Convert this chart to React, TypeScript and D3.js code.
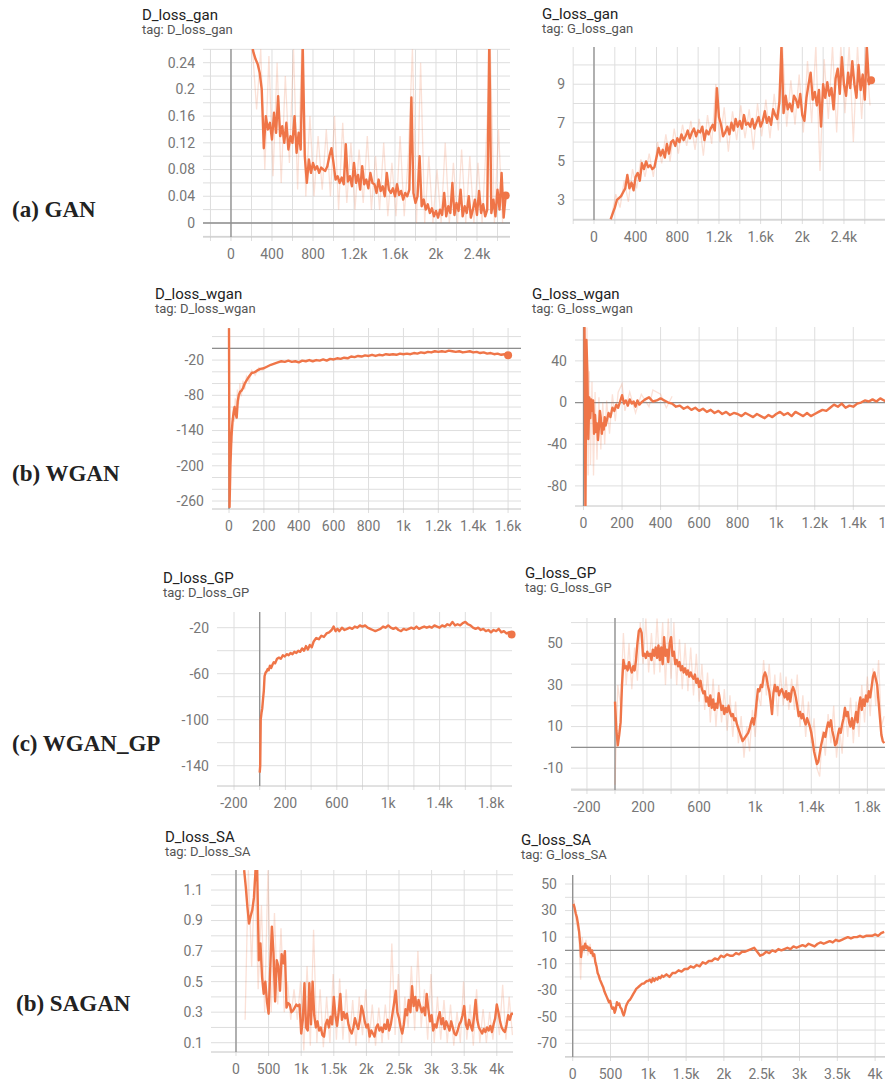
import React from "react"
import * as d3 from "d3"

type Pt = [number, number]

// logged scalars come at a fixed step stride
const seq = (start: number, stride: number, values: number[]): Pt[] =>
  values.map((v, i) => [start + i * stride, v] as Pt)

// ---------- (a) GAN ----------
const dLossGan = seq(200, 20, [
  0.270, 0.255, 0.245, 0.238, 0.225, 0.200, 0.112, 0.160, 0.140, 0.150,
  0.125, 0.165, 0.135, 0.190, 0.130, 0.145, 0.120, 0.150, 0.110, 0.130,
  0.120, 0.160, 0.105, 0.135, 0.110, 0.265, 0.100, 0.060, 0.095, 0.075,
  0.090, 0.080, 0.085, 0.075, 0.083, 0.080, 0.078, 0.085, 0.100, 0.112,
  0.090, 0.065, 0.070, 0.060, 0.068, 0.058, 0.118, 0.062, 0.070, 0.055,
  0.090, 0.060, 0.072, 0.050, 0.085, 0.058, 0.065, 0.052, 0.075, 0.060,
  0.058, 0.045, 0.065, 0.048, 0.055, 0.040, 0.075, 0.050, 0.045, 0.052,
  0.040, 0.058, 0.042, 0.048, 0.035, 0.045, 0.040, 0.050, 0.188, 0.045,
  0.030, 0.040, 0.100, 0.025, 0.035, 0.020, 0.028, 0.015, 0.022, 0.010,
  0.018, 0.008, 0.020, 0.012, 0.045, 0.010, 0.025, 0.015, 0.060, 0.012,
  0.030, 0.018, 0.050, 0.010, 0.025, 0.015, 0.040, 0.008, 0.020, 0.035,
  0.012, 0.048, 0.015, 0.028, 0.010, 0.020, 0.275, 0.015, 0.035, 0.010,
  0.050, 0.020, 0.075, 0.008, 0.041,
])
const dLossGanRaw = seq(210, 40, [
  0.26, 0.17, 0.26, 0.08, 0.25, 0.07, 0.24, 0.06, 0.22, 0.09,
  0.26, 0.05, 0.26, 0.04, 0.16, 0.04, 0.13, 0.05, 0.14, 0.04,
  0.16, 0.02, 0.15, 0.03, 0.12, 0.02, 0.11, 0.03, 0.13, 0.02,
  0.10, 0.02, 0.12, 0.01, 0.09, 0.01, 0.13, 0.01, 0.10, 0.26,
  0.00, 0.24, 0.00, 0.10, 0.00, 0.08, 0.00, 0.12, 0.00, 0.09,
  0.00, 0.11, 0.00, 0.10, 0.00, 0.09, 0.00, 0.12, 0.26, 0.00,
  0.14, 0.00,
])
const gLossGan = seq(160, 20, [
  2.0, 2.3, 2.6, 3.0, 3.1, 3.2, 3.4, 3.6, 4.3, 3.6,
  3.9, 3.5, 4.2, 4.4, 4.0, 4.9, 4.6, 5.0, 4.7, 4.8,
  4.6, 4.7, 5.2, 5.7, 5.3, 5.6, 5.2, 5.9, 5.4, 6.0,
  6.1, 5.8, 6.2, 6.0, 6.4, 6.1, 6.3, 6.6, 6.2, 6.5,
  6.7, 6.3, 6.6, 6.5, 6.8, 6.1, 6.6, 6.4, 6.7, 6.9,
  6.6, 8.8, 7.3, 6.9, 6.3, 6.5, 6.8, 6.4, 7.0, 6.6,
  7.2, 6.8, 7.1, 6.7, 7.4, 6.9, 7.0, 6.8, 7.2, 6.7,
  7.0, 7.3, 6.8, 7.1, 7.6, 7.0, 7.3, 6.9, 7.7, 7.4,
  7.2, 8.1, 11.0, 7.5, 8.4, 7.7, 8.0, 7.6, 8.4, 8.2,
  7.8, 8.5, 7.4, 7.1, 8.3, 9.0, 9.6, 8.2, 8.6, 7.9,
  8.7, 6.8, 9.0, 8.3, 9.1, 8.4, 8.8, 7.7, 9.3, 9.8,
  8.5, 10.4, 9.0, 8.4, 9.6, 8.8, 10.2, 9.0, 8.3, 10.0,
  8.7, 9.5, 8.2, 10.9, 9.0, 9.2,
])
const gLossGanRaw = seq(170, 40, [
  2.2, 3.3, 2.6, 4.0, 2.9, 4.6, 3.6, 5.1, 4.2, 5.4,
  4.2, 6.0, 4.9, 6.4, 5.0, 6.7, 5.4, 6.9, 5.8, 7.1,
  5.6, 7.2, 5.3, 7.4, 5.9, 9.0, 6.0, 7.8, 5.5, 7.6,
  6.1, 7.9, 6.2, 7.7, 5.6, 8.0, 6.3, 8.2, 6.2, 8.5,
  6.6, 11.0, 6.8, 9.2, 6.9, 9.5, 6.5, 10.2, 7.0, 11.0,
  4.5, 10.3, 7.2, 11.0, 6.5, 11.0, 7.5, 11.0, 6.0, 11.0,
  7.2, 11.0, 7.9,
])

// ---------- (b) WGAN ----------
const dLossWgan: Pt[] = [
  [0, 34], [3, -270], [8, -200], [14, -150], [20, -125], [26, -110], [32, -100], [38, -112], [44, -118], [50, -90],
  [56, -80], [64, -74], [72, -72], [80, -68], [90, -60], [100, -55], [115, -48], [130, -42], [145, -41], [160, -38],
  [180, -35], [200, -34], [220, -31], [240, -28], [260, -26], [280, -24], [300, -22], [320, -23], [340, -21], [360, -23],
  [380, -22], [400, -24], [420, -21], [440, -22], [460, -20], [480, -22], [500, -20], [520, -21], [540, -19], [560, -21],
  [580, -18], [600, -19], [620, -17], [640, -18], [660, -16], [680, -17], [700, -14], [720, -15], [740, -13], [760, -14],
  [780, -12], [800, -13], [820, -11], [840, -13], [860, -11], [880, -12], [900, -10], [920, -11], [940, -10], [960, -11],
  [980, -9], [1000, -10], [1020, -9], [1040, -10], [1060, -8], [1080, -9], [1100, -7], [1120, -8], [1140, -6], [1160, -7],
  [1180, -5], [1200, -6], [1220, -5], [1240, -6], [1260, -4], [1280, -5], [1300, -6], [1320, -5], [1340, -7], [1360, -6],
  [1380, -5], [1400, -7], [1420, -6], [1440, -8], [1460, -7], [1480, -9], [1500, -8], [1520, -10], [1540, -9], [1560, -11],
  [1580, -10], [1600, -12],
]
const dLossWganRaw: Pt[] = [
  [6, -230], [12, -140], [18, -160], [24, -100], [30, -125], [36, -85], [42, -120], [48, -70], [55, -95], [62, -60],
  [70, -82], [80, -55], [90, -70], [100, -48], [115, -58], [130, -38], [150, -46], [170, -33], [190, -38], [210, -30],
]
const gLossWgan: Pt[] = [
  [0, 72], [5, 72], [10, -99], [15, 60], [20, 30], [25, -35], [30, 5], [35, -15], [40, 3], [45, -8],
  [50, 2], [55, -30], [60, -12], [65, -28], [70, -20], [75, -36], [80, -24], [85, -8], [90, -15], [95, -30],
  [100, -20], [105, -26], [110, -14], [115, -22], [120, -18], [130, -10], [140, -14], [150, -5], [160, -8], [170, -2],
  [180, -5], [190, 1], [200, 7], [210, -1], [220, 2], [230, -3], [240, 3], [250, -1], [260, 1], [270, -4],
  [280, 2], [290, -2], [300, 0], [320, 3], [340, 5], [360, 1], [380, 2], [400, 4], [420, 2], [440, 0],
  [460, -1], [480, -4], [500, -3], [520, -6], [540, -4], [560, -7], [580, -5], [600, -8], [620, -6], [640, -9],
  [660, -7], [680, -10], [700, -8], [720, -11], [740, -9], [760, -12], [780, -10], [800, -11], [820, -13], [840, -10],
  [860, -12], [880, -14], [900, -11], [920, -13], [940, -15], [960, -12], [980, -14], [1000, -11], [1020, -9], [1040, -12],
  [1060, -10], [1080, -13], [1100, -9], [1120, -11], [1140, -13], [1160, -10], [1180, -13], [1200, -11], [1220, -9], [1240, -7],
  [1260, -8], [1280, -5], [1300, -2], [1320, -4], [1340, -1], [1360, -5], [1380, -3], [1400, -4], [1420, -1], [1440, 0],
  [1460, 2], [1480, 1], [1500, 3], [1520, 1], [1540, 4], [1560, 2], [1580, 0], [1600, -1],
]
const gLossWganRaw: Pt[] = [
  [8, 72], [12, -99], [18, 72], [24, -70], [30, 30], [36, -60], [44, 20], [52, -70], [60, 10], [70, -55],
  [80, 5], [90, -45], [100, 0], [110, -40], [120, 2], [135, -30], [150, 8], [165, -18], [180, 10], [200, 18],
  [215, -8], [240, 10], [270, -10], [300, 8], [340, -4], [360, 12], [400, 8], [430, -5], [460, 6],
]

// ---------- (c) WGAN_GP ----------
const dLossGp: Pt[] = [
  [0, -146], [4, -140], [8, -100], [14, -94], [20, -90], [26, -82], [32, -75], [38, -62], [46, -59], [54, -58],
  [62, -56], [70, -57], [80, -53], [90, -55], [100, -52], [110, -50], [120, -51], [135, -47], [150, -46], [165, -47],
  [180, -44], [195, -45], [210, -43], [225, -44], [240, -42], [255, -43], [270, -41], [285, -42], [300, -40], [315, -41],
  [330, -38], [345, -40], [360, -36], [375, -39], [390, -35], [405, -37], [420, -32], [440, -29], [460, -30], [480, -27],
  [500, -28], [520, -25], [540, -24], [560, -22], [575, -19], [590, -23], [605, -21], [620, -23], [640, -20], [660, -22],
  [680, -21], [700, -20], [720, -21], [740, -19], [760, -20], [780, -18], [800, -19], [820, -18], [840, -20], [860, -21],
  [880, -22], [900, -23], [920, -22], [940, -21], [960, -19], [980, -20], [1000, -18], [1020, -20], [1040, -21], [1060, -20],
  [1080, -22], [1100, -23], [1120, -21], [1140, -22], [1160, -21], [1180, -20], [1200, -21], [1220, -19], [1240, -21], [1260, -20],
  [1280, -19], [1300, -20], [1320, -19], [1340, -20], [1360, -18], [1380, -19], [1400, -20], [1420, -18], [1440, -19], [1460, -17],
  [1480, -18], [1500, -15], [1520, -18], [1540, -17], [1560, -18], [1580, -16], [1600, -15], [1620, -17], [1640, -18], [1660, -20],
  [1680, -21], [1700, -20], [1720, -22], [1740, -21], [1760, -23], [1780, -22], [1800, -24], [1820, -22], [1840, -23], [1860, -21],
  [1880, -24], [1900, -23], [1920, -25], [1940, -24], [1960, -26],
]
const gLossGp = seq(0, 10, [
  22, 8, 1, 6, 12, 30, 42, 38, 39, 37,
  41, 38, 36, 39, 37, 42, 50, 56, 57, 55,
  44, 45, 43, 46, 44, 45, 42, 47, 44, 48,
  43, 49, 42, 48, 40, 53, 44, 47, 41, 50,
  53, 44, 46, 40, 42, 39, 41, 37, 39, 36,
  38, 35, 37, 34, 36, 34, 33, 35, 31, 33,
  29, 32, 28, 26, 27, 22, 24, 20, 25, 19,
  23, 18, 21, 19, 26, 22, 18, 20, 16, 19,
  17, 20, 17, 15, 16, 13, 14, 11, 9, 7,
  5, 3, 4, 5, 6, 7, 9, 12, 14, 11,
  15, 22, 28, 27, 30, 29, 34, 36, 34, 30,
  27, 22, 16, 26, 30, 27, 29, 25, 27, 28,
  26, 24, 27, 23, 26, 22, 27, 29, 27, 24,
  20, 15, 17, 14, 16, 13, 11, 14, 12, 10,
  7, 3, -2, -5, -8, -7, -3, 1, 4, 7,
  5, 9, 12, 10, 13, 8, 5, 1, 2, 6,
  9, 7, 11, 14, 19, 15, 17, 12, 10, 14,
  9, 13, 17, 12, 20, 24, 18, 23, 20, 25,
  22, 27, 24, 29, 34, 36, 33, 30, 22, 14,
  6, 3, 2,
])
const gLossGpRaw = seq(0, 20, [
  -18, 30, 20, 55, 30, 50, 28, 48, 32, 60,
  40, 62, 36, 55, 35, 62, 36, 60, 30, 62,
  33, 60, 30, 52, 28, 50, 27, 48, 25, 45,
  22, 40, 18, 36, 12, 33, 10, 30, 12, 28,
  8, 25, 5, 22, 2, 15, -5, 10, -2, 18,
  5, 25, 20, 42, 25, 40, 18, 35, 15, 36,
  20, 34, 18, 33, 18, 35, 10, 25, 5, 22,
  2, 14, -10, -14, 8, -4, 16, 2, 20, -5,
  10, -3, 20, 5, 24, 2, 22, 5, 30, 12,
  34, 15, 38, 20, 42, 10, 15,
])

// ---------- (d) SAGAN ----------
const dLossSa = seq(125, 25, [
  1.23, 1.12, 0.99, 0.88, 0.93, 0.97, 1.05, 1.23, 1.23, 0.64,
  0.75, 0.53, 0.42, 0.50, 0.37, 0.29, 0.58, 0.86, 0.69, 0.37,
  0.64, 0.60, 0.44, 0.68, 0.62, 0.70, 0.33, 0.36, 0.35, 0.30,
  0.31, 0.33, 0.35, 0.34, 0.35, 0.16, 0.25, 0.49, 0.20, 0.18,
  0.49, 0.22, 0.50, 0.28, 0.20, 0.24, 0.18, 0.20, 0.15, 0.14,
  0.22, 0.25, 0.20, 0.27, 0.22, 0.40, 0.28, 0.21, 0.30, 0.42,
  0.25, 0.30, 0.26, 0.29, 0.22, 0.18, 0.16, 0.20, 0.26, 0.22,
  0.19, 0.25, 0.34, 0.30, 0.24, 0.20, 0.22, 0.14, 0.18, 0.16,
  0.14, 0.20, 0.22, 0.18, 0.20, 0.17, 0.22, 0.19, 0.25, 0.18,
  0.22, 0.29, 0.36, 0.44, 0.30, 0.26, 0.20, 0.16, 0.22, 0.32,
  0.28, 0.38, 0.30, 0.47, 0.34, 0.40, 0.31, 0.38, 0.34, 0.30,
  0.33, 0.28, 0.42, 0.32, 0.24, 0.28, 0.18, 0.22, 0.20, 0.26,
  0.30, 0.22, 0.26, 0.19, 0.24, 0.21, 0.18, 0.24, 0.20, 0.16,
  0.15, 0.18, 0.22, 0.24, 0.28, 0.34, 0.22, 0.19, 0.25, 0.21,
  0.18, 0.27, 0.38, 0.25, 0.20, 0.18, 0.16, 0.19, 0.17, 0.20,
  0.18, 0.21, 0.17, 0.22, 0.26, 0.35, 0.30, 0.24, 0.20, 0.18,
  0.17, 0.22, 0.28, 0.25, 0.29, 0.29,
])
const dLossSaRaw = seq(140, 50, [
  0.25, 1.23, 0.60, 1.23, 0.45, 1.00, 0.30, 1.23, 0.30, 0.95,
  0.35, 0.85, 0.30, 0.50, 0.25, 0.45, 0.25, 0.50, 0.05, 0.60,
  0.08, 0.84, 0.10, 0.45, 0.07, 0.40, 0.10, 0.55, 0.12, 0.52,
  0.12, 0.45, 0.10, 0.38, 0.08, 0.40, 0.15, 0.45, 0.10, 0.35,
  0.08, 0.33, 0.10, 0.35, 0.12, 0.75, 0.15, 0.55, 0.10, 0.40,
  0.20, 0.60, 0.18, 0.70, 0.20, 0.45, 0.12, 0.55, 0.10, 0.40,
  0.12, 0.38, 0.10, 0.35, 0.08, 0.30, 0.10, 0.50, 0.12, 0.35,
  0.08, 0.45, 0.10, 0.32, 0.10, 0.30, 0.12, 0.35, 0.15, 0.48,
  0.12, 0.40, 0.15,
])
const gLossSa: Pt[] = [
  [10, 35], [25, 32], [40, 28], [55, 25], [70, 20], [85, 14], [100, 5], [110, -5], [120, 0], [135, 3],
  [150, 1], [165, 5], [180, 2], [195, 3], [210, 0], [225, 2], [240, -2], [255, 0], [270, -4], [285, -3],
  [300, -9], [315, -12], [330, -17], [345, -19], [360, -22], [375, -24], [390, -26], [405, -28], [420, -31], [435, -33],
  [450, -35], [465, -37], [480, -39], [495, -38], [510, -42], [525, -44], [540, -43], [555, -47], [570, -44], [585, -39],
  [600, -41], [615, -40], [630, -43], [645, -44], [660, -47], [675, -49], [690, -46], [705, -42], [720, -40], [740, -38],
  [760, -37], [780, -35], [800, -33], [820, -31], [840, -29], [860, -28], [880, -27], [900, -26], [920, -25], [940, -25],
  [960, -24], [980, -23], [1000, -23], [1020, -22], [1040, -24], [1060, -21], [1080, -23], [1100, -21], [1120, -22], [1140, -20],
  [1160, -21], [1180, -19], [1200, -20], [1240, -18], [1280, -20], [1320, -17], [1360, -17], [1400, -15], [1440, -16], [1480, -14],
  [1520, -14], [1560, -12], [1600, -13], [1640, -11], [1680, -12], [1720, -9], [1760, -10], [1800, -8], [1840, -8], [1880, -6],
  [1920, -7], [1960, -4], [2000, -5], [2040, -3], [2080, -4], [2120, -4], [2160, -2], [2200, -3], [2240, -1], [2280, -1],
  [2320, 0], [2360, 1], [2400, 2], [2440, -1], [2480, -4], [2520, -3], [2560, -1], [2600, -2], [2640, 0], [2680, -1],
  [2720, 1], [2760, 0], [2800, 1], [2840, 2], [2880, 1], [2920, 3], [2960, 2], [3000, 3], [3040, 4], [3080, 3],
  [3120, 5], [3160, 4], [3200, 3], [3240, 5], [3280, 6], [3320, 5], [3360, 6], [3400, 7], [3440, 6], [3480, 8],
  [3520, 7], [3560, 8], [3600, 9], [3640, 10], [3680, 9], [3720, 10], [3760, 10], [3800, 11], [3840, 10], [3880, 11],
  [3920, 11], [3960, 11], [4000, 12], [4040, 11], [4080, 13], [4120, 14],
]
const gLossSaRaw: Pt[] = [
  [15, 38], [50, 20], [80, 14], [105, -22], [125, 10], [150, -2], [175, 8], [200, -4], [230, 5], [260, -6],
]

// ---------- tick labels ----------
const ganXTicks = [0, 400, 800, 1200, 1600, 2000, 2400]
const dGanYTicks = [0, 0.04, 0.08, 0.12, 0.16, 0.2, 0.24]
const gGanYTicks = [3, 5, 7, 9]
const wganXTicks = [0, 200, 400, 600, 800, 1000, 1200, 1400, 1600]
const dWganYTicks = [-260, -200, -140, -80, -20]
const gWganYTicks = [-80, -40, 0, 40]
const gpXTicks = [-200, 200, 600, 1000, 1400, 1800]
const dGpYTicks = [-140, -100, -60, -20]
const gGpYTicks = [-10, 10, 30, 50]
const saXTicks = [0, 500, 1000, 1500, 2000, 2500, 3000, 3500, 4000]
const dSaYTicks = [0.1, 0.3, 0.5, 0.7, 0.9, 1.1]
const gSaYTicks = [-70, -50, -30, -10, 10, 30, 50]

const rowLabels = [
  { text: "(a) GAN", x: 12, y: 217 },
  { text: "(b) WGAN", x: 12, y: 481 },
  { text: "(c) WGAN_GP", x: 12, y: 751 },
  { text: "(b) SAGAN", x: 16, y: 1011 },
]

const panels = [
  { title: "D_loss_gan", tx: 142, ty: 20, left: 203, right: 510, top: 49, bottom: 237,
    xDomain: [-273, 2722], yDomain: [-0.021, 0.2605], xStep: 200, yStep: 0.02,
    xTicks: ganXTicks, yTicks: dGanYTicks, smooth: dLossGan, raw: dLossGanRaw, dot: true },
  { title: "G_loss_gan", tx: 542, ty: 19, left: 573, right: 885, top: 47, bottom: 220,
    xDomain: [-201.6, 2794], yDomain: [1.96, 10.93], xStep: 200, yStep: 1,
    xTicks: ganXTicks, yTicks: gGanYTicks, smooth: gLossGan, raw: gLossGanRaw, dot: true },
  { title: "D_loss_wgan", tx: 155, ty: 299, left: 212, right: 521, top: 328, bottom: 509,
    xDomain: [-97.5, 1674], yDomain: [-273.6, 34.6], xStep: 200, yStep: 20,
    xTicks: wganXTicks, yTicks: dWganYTicks, smooth: dLossWgan, raw: dLossWganRaw, dot: true },
  { title: "G_loss_wgan", tx: 532, ty: 299, left: 575, right: 885, top: 327, bottom: 506,
    xDomain: [-44.1, 1564.6], yDomain: [-99.3, 72.5], xStep: 200, yStep: 20,
    xTicks: wganXTicks, yTicks: gWganYTicks, smooth: gLossWgan, raw: gLossWganRaw, dot: true },
  { title: "D_loss_GP", tx: 163, ty: 583, left: 217, right: 512, top: 612, bottom: 786,
    xDomain: [-332.3, 1963.4], yDomain: [-157.65, -6.35], xStep: 200, yStep: 20,
    xTicks: gpXTicks, yTicks: dGpYTicks, smooth: dLossGp, raw: [] as Pt[], dot: true },
  { title: "G_loss_GP", tx: 525, ty: 578, left: 571, right: 885, top: 618, bottom: 790,
    xDomain: [-313.8, 1925.8], yDomain: [-20.5, 62.2], xStep: 200, yStep: 10,
    xTicks: gpXTicks, yTicks: gGpYTicks, smooth: gLossGp, raw: gLossGpRaw, dot: false },
  { title: "D_loss_SA", tx: 165, ty: 842, left: 211, right: 513, top: 870, bottom: 1052,
    xDomain: [-383.4, 4248.5], yDomain: [0.0392, 1.231], xStep: 500, yStep: 0.1,
    xTicks: saXTicks, yTicks: dSaYTicks, smooth: dLossSa, raw: dLossSaRaw, dot: false },
  { title: "G_loss_SA", tx: 521, ty: 845, left: 565, right: 885, top: 875, bottom: 1057,
    xDomain: [-101.9, 4130.9], yDomain: [-80.3, 56.8], xStep: 500, yStep: 10,
    xTicks: saXTicks, yTicks: gSaYTicks, smooth: gLossSa, raw: gLossSaRaw, dot: false },
]

const LINE = "#ef7548"
const kfmt = (d: number) => (Math.abs(d) >= 1000 ? `${d / 1000}k` : `${d}`)

function Panel({ p, idx }: { p: typeof panels[number]; idx: number }) {
  const x = d3.scaleLinear().domain(p.xDomain).range([p.left, p.right])
  const y = d3.scaleLinear().domain(p.yDomain).range([p.bottom, p.top])
  const line = d3.line<Pt>().x(d => x(d[0])).y(d => y(d[1]))
  const xGrid = d3.range(Math.ceil(p.xDomain[0] / p.xStep) * p.xStep, p.xDomain[1], p.xStep)
  const yGrid = d3.range(Math.ceil(p.yDomain[0] / p.yStep - 1e-6), Math.floor(p.yDomain[1] / p.yStep + 1e-6) + 1)
    .map(k => k * p.yStep)
  const clip = `clip-${idx}`
  const last = p.smooth[p.smooth.length - 1]
  const hasX0 = p.xDomain[0] < 0 && p.xDomain[1] > 0
  const hasY0 = p.yDomain[0] < 0 && p.yDomain[1] > 0

  return (
    <g>
      <text x={p.tx} y={p.ty} fontSize={15} fill="#222">{p.title}</text>
      <text x={p.tx} y={p.ty + 14} fontSize={13} fill="#555">{`tag: ${p.title}`}</text>
      <defs>
        <clipPath id={clip}>
          <rect x={p.left} y={p.top} width={p.right - p.left} height={p.bottom - p.top} />
        </clipPath>
      </defs>
      {yGrid.map(v => (
        <line key={`h${v}`} x1={p.left} x2={p.right} y1={y(v)} y2={y(v)} stroke="#dedede" />
      ))}
      {xGrid.map(v => (
        <line key={`v${v}`} x1={x(v)} x2={x(v)} y1={p.top} y2={p.bottom + 4} stroke="#dedede" />
      ))}
      <line x1={p.left} x2={p.right} y1={p.bottom} y2={p.bottom} stroke="#c4c4c4" />
      {hasY0 && <line x1={p.left} x2={p.right} y1={y(0)} y2={y(0)} stroke="#8e8e8e" strokeWidth={1.3} />}
      {hasX0 && <line x1={x(0)} x2={x(0)} y1={p.top} y2={p.bottom} stroke="#8e8e8e" strokeWidth={1.3} />}
      <g clipPath={`url(#${clip})`}>
        {p.raw.length > 0 && (
          <path d={line(p.raw) ?? ""} fill="none" stroke={LINE} strokeOpacity={0.22} strokeWidth={1.3} />
        )}
        <path d={line(p.smooth) ?? ""} fill="none" stroke={LINE} strokeWidth={2.4} strokeLinejoin="round" />
      </g>
      {p.dot && <circle cx={x(last[0])} cy={y(last[1])} r={4} fill={LINE} />}
      {p.yTicks.map(v => (
        <text key={`yl${v}`} x={p.left - 8} y={y(v)} dy="0.35em" textAnchor="end" fontSize={14} fill="#777">
          {String(v)}
        </text>
      ))}
      {p.xTicks.map(v => (
        <text key={`xl${v}`} x={x(v)} y={p.bottom + 22} textAnchor="middle" fontSize={14} fill="#777">
          {kfmt(v)}
        </text>
      ))}
    </g>
  )
}

export default function App() {
  return (
    <svg width={885} height={1081} style={{ position: "absolute", left: 0, top: 0, background: "#fff" }}
      fontFamily="Roboto, 'Noto Sans', sans-serif">
      {panels.map((p, i) => <Panel key={p.title} p={p} idx={i} />)}
      {rowLabels.map(r => (
        <text key={r.text} x={r.x} y={r.y} fontFamily="'Liberation Serif', 'DejaVu Serif', serif"
          fontWeight="bold" fontSize={23} fill="#222">{r.text}</text>
      ))}
    </svg>
  )
}
